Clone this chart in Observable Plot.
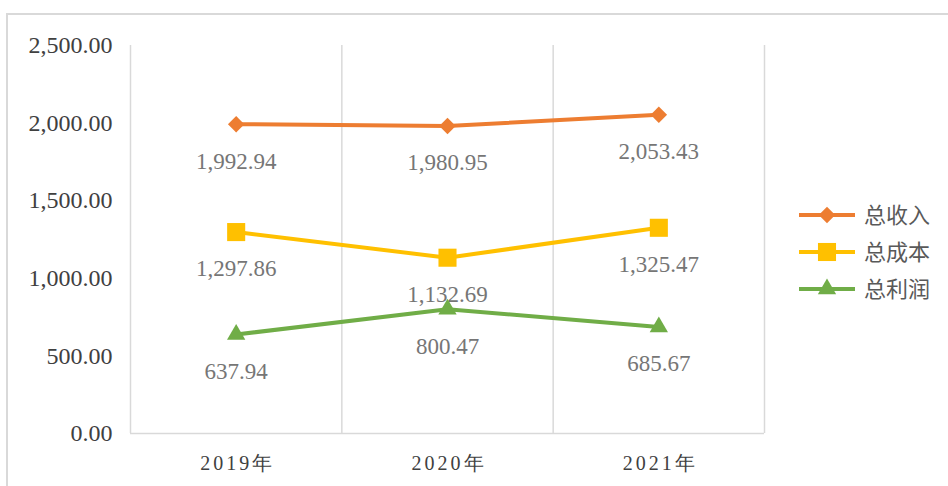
<!DOCTYPE html>
<html>
<head>
<meta charset="utf-8">
<script src="https://cdn.jsdelivr.net/npm/d3@7"></script>
<script src="https://cdn.jsdelivr.net/npm/@observablehq/plot@0.6"></script>
<style>
  html, body { margin: 0; padding: 0; background: #fff; }
  #wrap { position: relative; width: 948px; height: 486px; overflow: hidden; }
  #frame { position: absolute; left: 6px; top: 13px; width: 960px; height: 500px;
           border-top: 2px solid #d9d9d9; border-left: 2px solid #d9d9d9; box-sizing: border-box; }
  #chart { position: absolute; left: 0; top: 0; }
  #legend { position: absolute; left: 0; top: 0; }
  #chart g[aria-label="x-axis tick label"] text { letter-spacing: 3px; }
</style>
</head>
<body>
<div id="wrap">
  <div id="frame"></div>
  <div id="chart"></div>
  <svg id="legend" width="948" height="486"></svg>
</div>
<script>
const categories = ["2019年", "2020年", "2021年"];
const seriesNames = ["总收入", "总成本", "总利润"];
const revenue = [1992.94, 1980.95, 2053.43];
const cost = [1297.86, 1132.69, 1325.47];
const profit = [637.94, 800.47, 685.67];
const yTicks = [0, 500, 1000, 1500, 2000, 2500];
const colors = ["#ED7D31", "#FFC000", "#70AD47"];
const symbols = ["diamond2", "square", "triangle"];
const symbolR = [7.4, 10.2, 6.8];

const seriesValues = [revenue, cost, profit];
const data = [];
seriesNames.forEach((name, s) => {
  categories.forEach((c, i) => data.push({series: name, i, value: seriesValues[s][i]}));
});
const bounds = d3.range(categories.length + 1).map(k => k - 0.5);
const fmt = d3.format(",.2f");

const marks = [
  Plot.ruleX(bounds, {x: d => d, y1: 0, y2: 2500, stroke: "#d9d9d9", strokeWidth: 1.5}),
  Plot.ruleY([0], {stroke: "#d9d9d9", strokeWidth: 1.5}),
  Plot.axisY({ticks: yTicks, tickFormat: fmt, tickSize: 0, tickPadding: 18, fontSize: 24, fill: "#404040", label: null}),
  Plot.axisX({ticks: d3.range(categories.length), tickFormat: i => categories[i], tickSize: 0, tickPadding: 22,
              fontSize: 20, fill: "#404040", label: null, dx: 1.5})
];
seriesNames.forEach((name, s) => {
  const d = data.filter(r => r.series === name);
  marks.push(Plot.line(d, {x: "i", y: "value", stroke: colors[s], strokeWidth: 4}));
  marks.push(Plot.dot(d, {x: "i", y: "value", fill: colors[s], stroke: "none", symbol: () => symbols[s], r: symbolR[s]}));
  marks.push(Plot.text(d, {x: "i", y: "value", text: r => fmt(r.value), dy: 37, fontSize: 23, fill: "#767676"}));
});

const chart = Plot.plot({
  width: 948,
  height: 486,
  marginLeft: 130,
  marginRight: 184,
  marginTop: 45,
  marginBottom: 53,
  x: {type: "linear", domain: [-0.5, categories.length - 0.5]},
  y: {domain: [0, 2500]},
  symbol: {type: "identity"},
  style: {fontFamily: "'Liberation Serif', 'Times New Roman', serif", background: "transparent", overflow: "visible"},
  marks
});
document.getElementById("chart").appendChild(chart);

// legend
const lg = d3.select("#legend");
const ys = [215, 252, 289];
const symMap = {diamond2: d3.symbolDiamond2, square: d3.symbolSquare, triangle: d3.symbolTriangle};
seriesNames.forEach((name, s) => {
  const g = lg.append("g").attr("transform", `translate(0,${ys[s]})`);
  g.append("line").attr("x1", 799).attr("x2", 855).attr("y1", 0).attr("y2", 0)
    .attr("stroke", colors[s]).attr("stroke-width", 4);
  g.append("path").attr("transform", "translate(827,0)")
    .attr("d", d3.symbol(symMap[symbols[s]], Math.PI * symbolR[s] * symbolR[s])())
    .attr("fill", colors[s]);
  g.append("text").attr("x", 864).attr("y", 0).attr("dy", "0.36em")
    .attr("font-family", "'Noto Sans CJK SC', sans-serif").attr("font-size", 22)
    .attr("fill", "#595959").text(name);
});
</script>
</body>
</html>
